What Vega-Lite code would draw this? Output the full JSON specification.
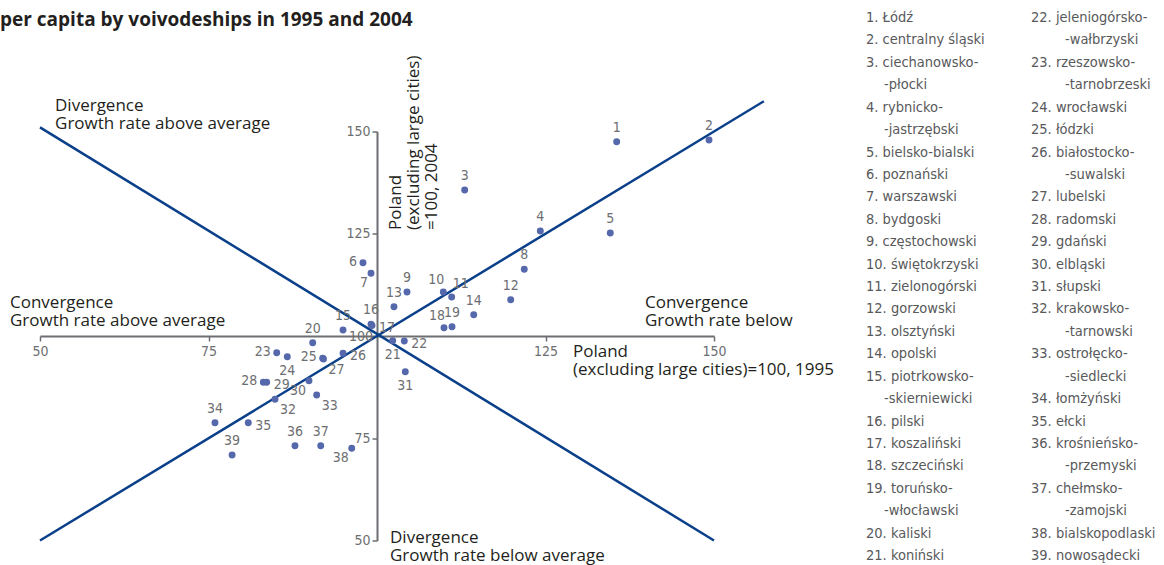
{
  "$schema": "https://vega.github.io/schema/vega-lite/v6.json",
  "width": 674,
  "height": 409,
  "autosize": {"type": "none"},
  "padding": {"left": 40, "top": 131.5, "right": 450, "bottom": 24.5},
  "background": "white",
  "config": {"view": {"stroke": null}},
  "datasets": {
    "points": [
      {"id": 1, "x": 135.56, "y": 147.5},
      {"id": 2, "x": 149.26, "y": 147.9},
      {"id": 3, "x": 113.01, "y": 135.7},
      {"id": 4, "x": 124.23, "y": 125.67},
      {"id": 5, "x": 134.61, "y": 125.18},
      {"id": 6, "x": 97.92, "y": 117.92},
      {"id": 7, "x": 99.11, "y": 115.33},
      {"id": 8, "x": 121.85, "y": 116.31},
      {"id": 9, "x": 104.45, "y": 110.76},
      {"id": 10, "x": 109.84, "y": 110.76},
      {"id": 11, "x": 111.08, "y": 109.54},
      {"id": 12, "x": 119.84, "y": 108.88},
      {"id": 13, "x": 102.52, "y": 107.16},
      {"id": 14, "x": 114.35, "y": 105.21},
      {"id": 15, "x": 94.96, "y": 101.47},
      {"id": 16, "x": 99.11, "y": 102.86},
      {"id": 17, "x": 99.26, "y": 102.57},
      {"id": 18, "x": 109.94, "y": 102.03},
      {"id": 19, "x": 111.13, "y": 102.27},
      {"id": 20, "x": 90.46, "y": 98.36},
      {"id": 21, "x": 102.33, "y": 98.85},
      {"id": 22, "x": 104.05, "y": 98.78},
      {"id": 23, "x": 85.12, "y": 95.92},
      {"id": 24, "x": 86.69, "y": 94.94},
      {"id": 25, "x": 91.94, "y": 94.55},
      {"id": 26, "x": 94.96, "y": 95.77},
      {"id": 27, "x": 92.06, "y": 94.38},
      {"id": 28, "x": 83.13, "y": 88.68},
      {"id": 29, "x": 83.63, "y": 88.68},
      {"id": 30, "x": 89.91, "y": 89.07},
      {"id": 31, "x": 104.2, "y": 91.27},
      {"id": 32, "x": 84.87, "y": 84.52},
      {"id": 33, "x": 91.05, "y": 85.57},
      {"id": 34, "x": 75.96, "y": 78.8},
      {"id": 35, "x": 80.9, "y": 78.8},
      {"id": 36, "x": 87.83, "y": 73.18},
      {"id": 37, "x": 91.65, "y": 73.18},
      {"id": 38, "x": 96.25, "y": 72.54},
      {"id": 39, "x": 78.5, "y": 70.9}
    ],
    "lines": [
      {"line": "convergence", "x": 50, "y": 50},
      {"line": "convergence", "x": 157.4, "y": 157.4},
      {"line": "divergence", "x": 50, "y": 151},
      {"line": "divergence", "x": 150, "y": 50}
    ],
    "legend": [
      {"col": 1, "text": "1. Łódź"},
      {"col": 1, "text": "2. centralny śląski"},
      {"col": 1, "text": "3. ciechanowsko-"},
      {"col": 1, "text": "-płocki"},
      {"col": 1, "text": "4. rybnicko-"},
      {"col": 1, "text": "-jastrzębski"},
      {"col": 1, "text": "5. bielsko-bialski"},
      {"col": 1, "text": "6. poznański"},
      {"col": 1, "text": "7. warszawski"},
      {"col": 1, "text": "8. bydgoski"},
      {"col": 1, "text": "9. częstochowski"},
      {"col": 1, "text": "10. świętokrzyski"},
      {"col": 1, "text": "11. zielonogórski"},
      {"col": 1, "text": "12. gorzowski"},
      {"col": 1, "text": "13. olsztyński"},
      {"col": 1, "text": "14. opolski"},
      {"col": 1, "text": "15. piotrkowsko-"},
      {"col": 1, "text": "-skierniewicki"},
      {"col": 1, "text": "16. pilski"},
      {"col": 1, "text": "17. koszaliński"},
      {"col": 1, "text": "18. szczeciński"},
      {"col": 1, "text": "19. toruńsko-"},
      {"col": 1, "text": "-włocławski"},
      {"col": 1, "text": "20. kaliski"},
      {"col": 1, "text": "21. koniński"},
      {"col": 2, "text": "22. jeleniogórsko-"},
      {"col": 2, "text": "-wałbrzyski"},
      {"col": 2, "text": "23. rzeszowsko-"},
      {"col": 2, "text": "-tarnobrzeski"},
      {"col": 2, "text": "24. wrocławski"},
      {"col": 2, "text": "25. łódzki"},
      {"col": 2, "text": "26. białostocko-"},
      {"col": 2, "text": "-suwalski"},
      {"col": 2, "text": "27. lubelski"},
      {"col": 2, "text": "28. radomski"},
      {"col": 2, "text": "29. gdański"},
      {"col": 2, "text": "30. elbląski"},
      {"col": 2, "text": "31. słupski"},
      {"col": 2, "text": "32. krakowsko-"},
      {"col": 2, "text": "-tarnowski"},
      {"col": 2, "text": "33. ostrołęcko-"},
      {"col": 2, "text": "-siedlecki"},
      {"col": 2, "text": "34. łomżyński"},
      {"col": 2, "text": "35. ełcki"},
      {"col": 2, "text": "36. krośnieńsko-"},
      {"col": 2, "text": "-przemyski"},
      {"col": 2, "text": "37. chełmsko-"},
      {"col": 2, "text": "-zamojski"},
      {"col": 2, "text": "38. bialskopodlaski"},
      {"col": 2, "text": "39. nowosądecki"}
    ]
  },
  "layer": [
    {
      "data": {"name": "lines"},
      "mark": {"type": "line", "color": "#0a3f8a", "strokeWidth": 2.5},
      "encoding": {
        "x": {"field": "x", "type": "quantitative", "scale": {"domain": [50, 150], "nice": false, "zero": false}, "axis": null},
        "y": {"field": "y", "type": "quantitative", "scale": {"domain": [50, 150], "nice": false, "zero": false}, "axis": null},
        "detail": {"field": "line"}
      }
    },
    {
      "data": {"name": "points"},
      "mark": {"type": "circle", "size": 48, "color": "#5568ab", "opacity": 1},
      "encoding": {
        "x": {
          "field": "x", "type": "quantitative",
          "scale": {"domain": [50, 150], "nice": false, "zero": false},
          "axis": {
            "values": [50, 75, 125, 150], "offset": -204.5, "title": null, "grid": false,
            "domainColor": "#6d6e71", "domainWidth": 2, "tickColor": "#6d6e71", "tickWidth": 1.5, "tickSize": 5,
            "labelColor": "#6d6e71", "labelFont": "DejaVu Sans Condensed, sans-serif",
            "labelFontSize": 14, "labelPadding": 3, "labelFlush": false, "labelOverlap": false
          }
        },
        "y": {
          "field": "y", "type": "quantitative",
          "scale": {"domain": [50, 150], "nice": false, "zero": false},
          "axis": {
            "values": [50, 75, 125, 150], "offset": -337, "title": null, "grid": false,
            "domainColor": "#6d6e71", "domainWidth": 2, "tickColor": "#6d6e71", "tickWidth": 1.5, "tickSize": 5,
            "labelColor": "#6d6e71", "labelFont": "DejaVu Sans Condensed, sans-serif",
            "labelFontSize": 14, "labelPadding": 2, "labelFlush": false, "labelOverlap": false
          }
        }
      }
    },
    {
      "data": {"name": "points"},
      "transform": [
        {"calculate": "indexof([21,24,31], datum.id) >= 0 ? 'below' : indexof([6,23,25,28], datum.id) >= 0 ? 'left' : indexof([17,22,26,29,35], datum.id) >= 0 ? 'right' : indexof([10,18], datum.id) >= 0 ? 'aboveleft' : indexof([11], datum.id) >= 0 ? 'aboveright' : indexof([27,32,33], datum.id) >= 0 ? 'belowright' : indexof([7,30,38], datum.id) >= 0 ? 'belowleft' : 'above'", "as": "side"}
      ],
      "layer": [
        {
          "transform": [{"filter": "datum.side == 'above'"}],
          "mark": {"type": "text", "align": "center", "baseline": "middle", "dy": -14, "fontSize": 14, "color": "#6d6e71", "font": "DejaVu Sans Condensed, sans-serif"}
        },
        {
          "transform": [{"filter": "datum.side == 'below'"}],
          "mark": {"type": "text", "align": "center", "baseline": "middle", "dy": 14, "fontSize": 14, "color": "#6d6e71", "font": "DejaVu Sans Condensed, sans-serif"}
        },
        {
          "transform": [{"filter": "datum.side == 'left'"}],
          "mark": {"type": "text", "align": "right", "baseline": "middle", "dx": -6, "dy": -1, "fontSize": 14, "color": "#6d6e71", "font": "DejaVu Sans Condensed, sans-serif"}
        },
        {
          "transform": [{"filter": "datum.side == 'right'"}],
          "mark": {"type": "text", "align": "left", "baseline": "middle", "dx": 7, "dy": 3, "fontSize": 14, "color": "#6d6e71", "font": "DejaVu Sans Condensed, sans-serif"}
        },
        {
          "transform": [{"filter": "datum.side == 'aboveleft'"}],
          "mark": {"type": "text", "align": "right", "baseline": "middle", "dx": 1, "dy": -12, "fontSize": 14, "color": "#6d6e71", "font": "DejaVu Sans Condensed, sans-serif"}
        },
        {
          "transform": [{"filter": "datum.side == 'aboveright'"}],
          "mark": {"type": "text", "align": "left", "baseline": "middle", "dx": 1, "dy": -13, "fontSize": 14, "color": "#6d6e71", "font": "DejaVu Sans Condensed, sans-serif"}
        },
        {
          "transform": [{"filter": "datum.side == 'belowright'"}],
          "mark": {"type": "text", "align": "left", "baseline": "middle", "dx": 5, "dy": 11, "fontSize": 14, "color": "#6d6e71", "font": "DejaVu Sans Condensed, sans-serif"}
        },
        {
          "transform": [{"filter": "datum.side == 'belowleft'"}],
          "mark": {"type": "text", "align": "right", "baseline": "middle", "dx": -3, "dy": 10, "fontSize": 14, "color": "#6d6e71", "font": "DejaVu Sans Condensed, sans-serif"}
        }
      ],
      "encoding": {
        "x": {"field": "x", "type": "quantitative", "scale": {"domain": [50, 150], "nice": false, "zero": false}, "axis": null},
        "y": {"field": "y", "type": "quantitative", "scale": {"domain": [50, 150], "nice": false, "zero": false}, "axis": null},
        "text": {"field": "id"}
      },
      "resolve": {"scale": {"x": "shared", "y": "shared"}}
    },
    {
      "data": {"values": [
        {"ax": 100, "ay": 100, "label": "100"}
      ]},
      "mark": {"type": "text", "align": "right", "baseline": "middle", "dx": -4, "dy": 1, "fontSize": 14, "color": "#6d6e71", "font": "DejaVu Sans Condensed, sans-serif"},
      "encoding": {
        "x": {"field": "ax", "type": "quantitative", "scale": {"domain": [50, 150], "nice": false, "zero": false}, "axis": null},
        "y": {"field": "ay", "type": "quantitative", "scale": {"domain": [50, 150], "nice": false, "zero": false}, "axis": null},
        "text": {"field": "label"}
      }
    },
    {
      "data": {"values": [{}]},
      "mark": {"type": "text", "align": "left", "baseline": "alphabetic", "fontSize": 19, "fontWeight": "bold", "color": "#231f20", "font": "Open Sans", "text": "per capita by voivodeships in 1995 and 2004"},
      "encoding": {
        "x": {"datum": 44.07, "type": "quantitative", "scale": {"domain": [50, 150], "nice": false, "zero": false}, "axis": null},
        "y": {"datum": 175.8, "type": "quantitative", "scale": {"domain": [50, 150], "nice": false, "zero": false}, "axis": null}
      }
    },
    {
      "data": {"values": [{}]},
      "mark": {"type": "text", "align": "left", "baseline": "alphabetic", "lineHeight": 18, "fontSize": 17, "color": "#231f20", "font": "Open Sans", "text": ["Divergence", "Growth rate above average"]},
      "encoding": {
        "x": {"datum": 52.23, "type": "quantitative", "scale": {"domain": [50, 150], "nice": false, "zero": false}, "axis": null},
        "y": {"datum": 155.0, "type": "quantitative", "scale": {"domain": [50, 150], "nice": false, "zero": false}, "axis": null}
      }
    },
    {
      "data": {"values": [{}]},
      "mark": {"type": "text", "align": "left", "baseline": "alphabetic", "lineHeight": 18, "fontSize": 17, "color": "#231f20", "font": "Open Sans", "text": ["Convergence", "Growth rate above average"]},
      "encoding": {
        "x": {"datum": 45.55, "type": "quantitative", "scale": {"domain": [50, 150], "nice": false, "zero": false}, "axis": null},
        "y": {"datum": 106.85, "type": "quantitative", "scale": {"domain": [50, 150], "nice": false, "zero": false}, "axis": null}
      }
    },
    {
      "data": {"values": [{}]},
      "mark": {"type": "text", "align": "left", "baseline": "alphabetic", "lineHeight": 18, "fontSize": 17, "color": "#231f20", "font": "Open Sans", "text": ["Convergence", "Growth rate below"]},
      "encoding": {
        "x": {"datum": 139.76, "type": "quantitative", "scale": {"domain": [50, 150], "nice": false, "zero": false}, "axis": null},
        "y": {"datum": 106.85, "type": "quantitative", "scale": {"domain": [50, 150], "nice": false, "zero": false}, "axis": null}
      }
    },
    {
      "data": {"values": [{}]},
      "mark": {"type": "text", "align": "left", "baseline": "alphabetic", "lineHeight": 18, "fontSize": 17, "color": "#231f20", "font": "Open Sans", "text": ["Divergence", "Growth rate below average"]},
      "encoding": {
        "x": {"datum": 101.93, "type": "quantitative", "scale": {"domain": [50, 150], "nice": false, "zero": false}, "axis": null},
        "y": {"datum": 49.5, "type": "quantitative", "scale": {"domain": [50, 150], "nice": false, "zero": false}, "axis": null}
      }
    },
    {
      "data": {"values": [{}]},
      "mark": {"type": "text", "align": "left", "baseline": "alphabetic", "lineHeight": 18, "fontSize": 17, "color": "#231f20", "font": "Open Sans", "text": ["Poland", "(excluding large cities)=100, 1995"]},
      "encoding": {
        "x": {"datum": 129.08, "type": "quantitative", "scale": {"domain": [50, 150], "nice": false, "zero": false}, "axis": null},
        "y": {"datum": 94.9, "type": "quantitative", "scale": {"domain": [50, 150], "nice": false, "zero": false}, "axis": null}
      }
    },
    {
      "data": {"values": [{}]},
      "mark": {"type": "text", "align": "left", "baseline": "alphabetic", "angle": 270, "lineHeight": 18, "fontSize": 17, "color": "#231f20", "font": "Open Sans", "text": ["Poland", "(excluding large cities)", "=100, 2004"]},
      "encoding": {
        "x": {"datum": 103.55, "type": "quantitative", "scale": {"domain": [50, 150], "nice": false, "zero": false}, "axis": null},
        "y": {"datum": 125.92, "type": "quantitative", "scale": {"domain": [50, 150], "nice": false, "zero": false}, "axis": null}
      }
    },
    {
      "data": {"name": "legend"},
      "transform": [
        {"window": [{"op": "row_number", "as": "row"}], "groupby": ["col"]},
        {"calculate": "indexof(datum.text, '-') == 0 ? (datum.col == 1 ? 'cont1' : 'cont2') : 'main'", "as": "kind"}
      ],
      "encoding": {
        "x": {"field": "col", "type": "quantitative", "scale": {"domain": [1, 2], "range": [826, 991]}, "axis": null},
        "y": {"field": "row", "type": "quantitative", "scale": {"domain": [1, 25], "range": [-113.5, 424.5]}, "axis": null},
        "text": {"field": "text"}
      },
      "layer": [
        {
          "transform": [{"filter": "datum.kind == 'main'"}],
          "mark": {"type": "text", "align": "left", "baseline": "middle", "fontSize": 14.5, "color": "#58595b", "font": "DejaVu Sans Condensed, sans-serif"}
        },
        {
          "transform": [{"filter": "datum.kind == 'cont1'"}],
          "mark": {"type": "text", "align": "left", "baseline": "middle", "dx": 18, "fontSize": 14.5, "color": "#58595b", "font": "DejaVu Sans Condensed, sans-serif"}
        },
        {
          "transform": [{"filter": "datum.kind == 'cont2'"}],
          "mark": {"type": "text", "align": "left", "baseline": "middle", "dx": 34, "fontSize": 14.5, "color": "#58595b", "font": "DejaVu Sans Condensed, sans-serif"}
        }
      ],
      "resolve": {"scale": {"x": "shared", "y": "shared"}}
    }
  ],
  "resolve": {"scale": {"x": "independent", "y": "independent"}}
}
